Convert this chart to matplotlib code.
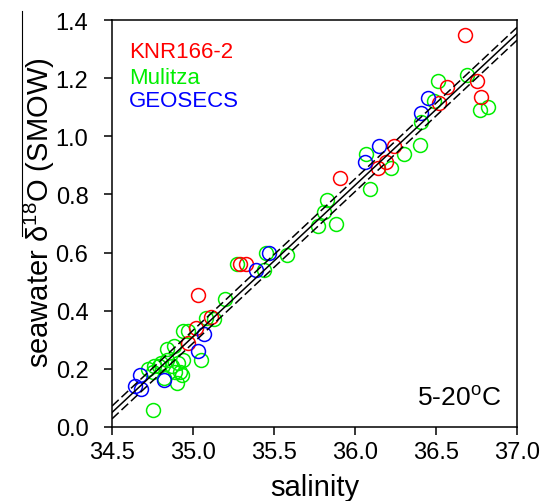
import matplotlib
matplotlib.use("Agg")
import matplotlib.pyplot as plt
import numpy as np
from matplotlib.lines import Line2D

plt.rcParams['font.family'] = ['Liberation Sans', 'DejaVu Sans']
plt.rcParams['mathtext.fontset'] = 'custom'
plt.rcParams['mathtext.rm'] = 'Liberation Sans'
plt.rcParams['mathtext.it'] = 'Liberation Sans:italic'

# KNR166-2 (red)
knr_sal = [34.97, 35.02, 35.03, 35.11, 35.29, 35.33, 35.91, 36.14, 36.19,
           36.24, 36.52, 36.57, 36.68, 36.75, 36.78]
knr_d18o = [0.29, 0.34, 0.455, 0.38, 0.56, 0.56, 0.855, 0.89, 0.91,
            0.965, 1.115, 1.17, 1.35, 1.19, 1.135]

# Mulitza (green)
mul_sal = [34.75, 34.72, 34.75, 34.76, 34.79, 34.80, 34.82, 34.84, 34.84,
           34.87, 34.88, 34.89, 34.90, 34.91, 34.92, 34.93, 34.94, 34.94,
           34.97, 35.05, 35.08, 35.13, 35.20, 35.27, 35.44, 35.45, 35.58,
           35.77, 35.81, 35.83, 35.88, 36.07, 36.09, 36.22, 36.30, 36.40,
           36.41, 36.49, 36.51, 36.69, 36.77, 36.82]
mul_d18o = [0.06, 0.20, 0.19, 0.21, 0.21, 0.22, 0.17, 0.23, 0.27,
            0.21, 0.28, 0.19, 0.15, 0.22, 0.19, 0.18, 0.23, 0.33,
            0.33, 0.23, 0.375, 0.37, 0.44, 0.56, 0.54, 0.60, 0.59,
            0.69, 0.74, 0.78, 0.70, 0.94, 0.82, 0.89, 0.94, 0.97,
            1.05, 1.12, 1.19, 1.21, 1.09, 1.10]

# GEOSECS (blue)
geo_sal = [34.64, 34.67, 34.68, 34.82, 35.03, 35.07, 35.39, 35.47, 36.06,
           36.15, 36.41, 36.45]
geo_d18o = [0.14, 0.18, 0.13, 0.16, 0.26, 0.32, 0.54, 0.60, 0.91,
            0.965, 1.08, 1.13]

# regression line and band
fit_slope = 0.521
fit_intercept = 0.05 - 0.521 * 34.5
band = 0.022

fig = plt.figure(figsize=(5.42, 5.02), dpi=100)
ax = fig.add_axes([112 / 542, 74 / 502, 405 / 542, 407 / 502])

mk = dict(marker='o', linestyle='none', markersize=10, markerfacecolor='none',
          markeredgewidth=1.1)
ax.plot(mul_sal, mul_d18o, markeredgecolor='#00ee00', **mk)
ax.plot(knr_sal, knr_d18o, markeredgecolor='#ff0000', **mk)
ax.plot(geo_sal, geo_d18o, markeredgecolor='#0000ff', **mk)

xs = np.array([34.5, 37.0])
ys = fit_intercept + fit_slope * xs
ax.plot(xs, ys, color='black', lw=1.1, zorder=5)
ax.plot(xs, ys + band, color='black', lw=1.1, dashes=(6, 2.5), zorder=5)
ax.plot(xs, ys - band, color='black', lw=1.1, dashes=(6, 2.5), zorder=5)

ax.set_xlim(34.5, 37.0)
ax.set_ylim(0, 1.4)
ax.set_xticks([34.5, 35.0, 35.5, 36.0, 36.5, 37.0])
ax.set_yticks([0.0, 0.2, 0.4, 0.6, 0.8, 1.0, 1.2, 1.4])
ax.xaxis.set_major_formatter(matplotlib.ticker.FormatStrFormatter('%.1f'))
ax.yaxis.set_major_formatter(matplotlib.ticker.FormatStrFormatter('%.1f'))
ax.tick_params(direction='out', length=6, width=1.1, labelsize=17)
ax.tick_params(axis='x', pad=4)
ax.tick_params(axis='y', pad=11)
for s in ax.spines.values():
    s.set_linewidth(1.1)

ax.set_xlabel('salinity', fontsize=21, va='top')
ax.xaxis.set_label_coords(0.5, -0.112)
ax.set_ylabel('seawater δ$^{18}$O (SMOW)', fontsize=21)
ax.yaxis.set_label_coords(-0.135, 0.53)

ax.text(0.042, 0.909, 'KNR166-2', color='#ff0000', fontsize=16,
        transform=ax.transAxes, va='baseline')
ax.text(0.042, 0.845, 'Mulitza', color='#00ee00', fontsize=16,
        transform=ax.transAxes, va='baseline')
ax.text(0.042, 0.789, 'GEOSECS', color='#0000ff', fontsize=16,
        transform=ax.transAxes, va='baseline')
ax.text(0.753, 0.054, '5-20$^{\\mathrm{o}}$C', fontsize=19,
        transform=ax.transAxes, va='baseline')

# overbar above the y label
fig.add_artist(Line2D([22 / 542, 22 / 542], [490 / 502, 265 / 502],
                      color='black', lw=0.8))

fig.savefig('out.png', dpi=100)
